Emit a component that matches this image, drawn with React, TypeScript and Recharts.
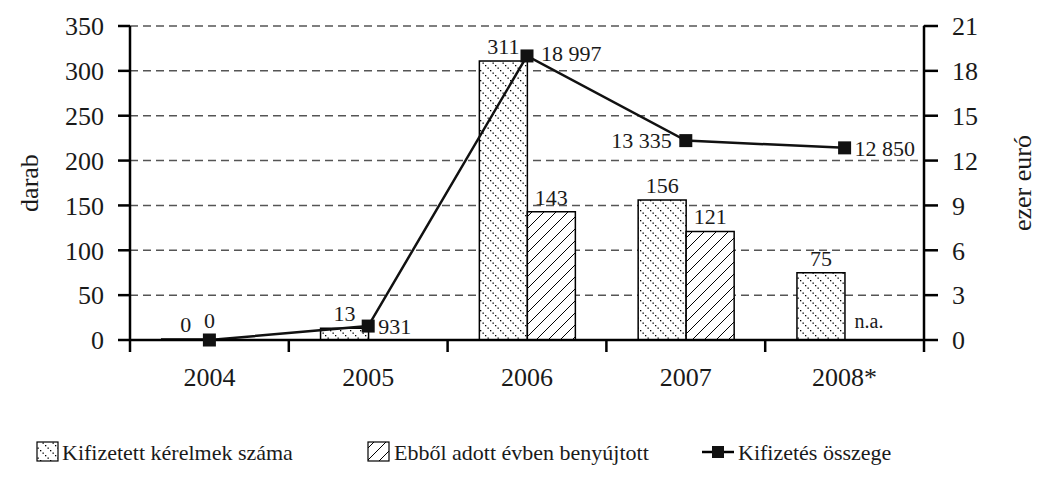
import React from 'react';
import {
  ComposedChart,
  Bar,
  Line,
  XAxis,
  YAxis,
  CartesianGrid,
  LabelList,
} from 'recharts';

// Adatok a diagramról leolvasva
const evek = ['2004', '2005', '2006', '2007', '2008*'];
const kifizetettKerelmek = [0, 13, 311, 156, 75];
const benyujtott: (number | null)[] = [null, null, 143, 121, null];
const nemElerheto = ['2008*'];
const kifizetesOsszege = [0, 931, 18997, 13335, 12850]; // euró
const balTickek = [0, 50, 100, 150, 200, 250, 300, 350];
const jobbTickek = [0, 3, 6, 9, 12, 15, 18, 21]; // ezer euró
const osszegCimkeHelye = ['top', 'right', 'right', 'left', 'right'];

const data = evek.map((ev, i) => ({
  ev,
  kerelmek: kifizetettKerelmek[i],
  benyujtott: benyujtott[i],
  osszeg: kifizetesOsszege[i],
}));

const FONT = '"Liberation Serif", "Times New Roman", serif';
const INK = '#1a1a1a';
const W = 1044;
const H = 478;
const M = { top: 26, right: 40, bottom: 88, left: 40 };
const LEFT_W = 90;
const RIGHT_W = 80;
const PLOT_BOTTOM = 340;
const BAND = (W - M.left - M.right - LEFT_W - RIGHT_W) / evek.length;

const formatSzam = (v: number) =>
  String(v).replace(/\B(?=(\d{3})+(?!\d))/g, ' ');

function Mintak({ prefix }: { prefix: string }) {
  return (
    <defs>
      <pattern id={prefix + 'pont'} patternUnits="userSpaceOnUse" width="10" height="10">
        <rect width="10" height="10" fill="#fff" />
        {[0, 2.5, 5, 7.5].map((d) => (
          <rect key={d} x={d} y={d} width="1.3" height="1.3" fill="#000" />
        ))}
      </pattern>
      <pattern id={prefix + 'vonal'} patternUnits="userSpaceOnUse" width="12" height="12">
        <rect width="12" height="12" fill="#fff" />
        <line x1="0" y1="12" x2="12" y2="0" stroke="#000" strokeWidth="1" />
        <line x1="-1" y1="1" x2="1" y2="-1" stroke="#000" strokeWidth="1" />
        <line x1="11" y1="13" x2="13" y2="11" stroke="#000" strokeWidth="1" />
      </pattern>
    </defs>
  );
}

function EvTick(props: any) {
  const { x, y, payload, index } = props;
  const bal = x - BAND / 2;
  return (
    <g>
      <line x1={bal} x2={bal} y1={y} y2={y + 12} stroke="#000" strokeWidth={2.5} />
      {index === evek.length - 1 && (
        <line x1={x + BAND / 2} x2={x + BAND / 2} y1={y} y2={y + 12} stroke="#000" strokeWidth={2.5} />
      )}
      <text x={x} y={y + 46} textAnchor="middle" fontSize={26} fill={INK} fontFamily={FONT}>
        {payload.value}
      </text>
    </g>
  );
}

function NegyzetPont(props: any) {
  const { cx, cy } = props;
  if (cx == null || cy == null) return null;
  return <rect x={cx - 6.5} y={cy - 6.5} width={13} height={13} fill="#111" />;
}

function OsszegCimke(props: any) {
  const { x, y, value, index } = props;
  const hely = osszegCimkeHelye[index];
  const szoveg = formatSzam(value);
  const kozos = { fontSize: 22, fill: INK, fontFamily: FONT };
  if (hely === 'top') {
    return (
      <text x={x} y={y - 12} textAnchor="middle" {...kozos}>
        {szoveg}
      </text>
    );
  }
  const dx = hely === 'right' ? (index === 2 ? 14 : 10) : -14;
  return (
    <text
      x={x + dx}
      y={y + (index === 2 ? -3 : 0)}
      dy="0.35em"
      textAnchor={hely === 'right' ? 'start' : 'end'}
      {...kozos}
    >
      {szoveg}
    </text>
  );
}

function BenyujtottCimke(props: any) {
  const { x, y, width, value } = props;
  if (value == null) return null;
  return (
    <text x={x + width / 2} y={y - 7} textAnchor="middle" fontSize={22} fill={INK} fontFamily={FONT}>
      {value}
    </text>
  );
}

// a "n.a." felirat a második oszlop (hiányzó) helyére kerül, közvetlenül az első mellé
function KerelemCimke(props: any) {
  const { x, y, width, height, value, index } = props;
  const hianyzik = benyujtott[index] == null && nemElerheto.includes(evek[index]);
  return (
    <g>
      <text
        x={x + width / 2}
        y={Math.min(y, y + height) - 7}
        textAnchor="middle"
        fontSize={22}
        fill={INK}
        fontFamily={FONT}
      >
        {value}
      </text>
      {hianyzik && (
        <text
          x={x + width * 1.5}
          y={PLOT_BOTTOM - 12}
          textAnchor="middle"
          fontSize={20}
          fill={INK}
          fontFamily={FONT}
        >
          n.a.
        </text>
      )}
    </g>
  );
}

function Jelmagyarazat() {
  const t = { fontSize: 22, fill: INK, fontFamily: FONT };
  return (
    <svg width={W} height={H} style={{ position: 'absolute', left: 0, top: 0, pointerEvents: 'none' }}>
      <Mintak prefix="lg-" />
      <rect x={37} y={442} width={21} height={19} fill="url(#lg-pont)" stroke="#000" strokeWidth={1.2} />
      <text x={62} y={460} {...t}>Kifizetett kérelmek száma</text>
      <rect x={368} y={442} width={21} height={19} fill="url(#lg-vonal)" stroke="#000" strokeWidth={1.2} />
      <text x={394} y={460} {...t}>Ebből adott évben benyújtott</text>
      <line x1={702} x2={734} y1={452} y2={452} stroke="#000" strokeWidth={2.5} />
      <rect x={712} y={446} width={12} height={12} fill="#111" />
      <text x={738} y={460} {...t}>Kifizetés összege</text>
    </svg>
  );
}

export default function App() {
  const tengely = { stroke: '#000', strokeWidth: 2.5 };
  const tickStilus = { fontSize: 26, fill: INK, fontFamily: FONT };
  return (
    <div style={{ position: 'absolute', left: 0, top: 0, width: W, height: H, background: '#fff', fontFamily: FONT }}>
      <ComposedChart
        width={W}
        height={H}
        data={data}
        margin={M}
        barCategoryGap="20%"
        barGap={0}
      >
        <Mintak prefix="ch-" />
        <CartesianGrid
          yAxisId="left"
          vertical={false}
          stroke="#555"
          strokeWidth={1.5}
          strokeDasharray="8 5"
        />
        <XAxis
          dataKey="ev"
          height={50}
          axisLine={tengely}
          tickLine={false}
          tickSize={0}
          tickMargin={0}
          tick={<EvTick />}
          interval={0}
        />
        <YAxis
          yAxisId="left"
          width={LEFT_W}
          domain={[0, 350]}
          ticks={balTickek}
          axisLine={tengely}
          tickLine={tengely}
          tickSize={12}
          tickMargin={14}
          tick={tickStilus}
          interval={0}
          label={{
            value: 'darab',
            content: () => (
              <text
                x={29}
                y={183}
                transform="rotate(-90 29 183)"
                textAnchor="middle"
                dominantBaseline="central"
                fontSize={26}
                fill={INK}
                fontFamily={FONT}
              >
                darab
              </text>
            ),
          }}
        />
        <YAxis
          yAxisId="right"
          orientation="right"
          width={RIGHT_W}
          domain={[0, 21000]}
          ticks={jobbTickek.map((t) => t * 1000)}
          tickFormatter={(v: number) => String(v / 1000)}
          axisLine={tengely}
          tickLine={tengely}
          tickSize={14}
          tickMargin={14}
          tick={tickStilus}
          interval={0}
          label={{
            value: 'ezer euró',
            content: () => (
              <text
                x={1022}
                y={183}
                transform="rotate(-90 1022 183)"
                textAnchor="middle"
                dominantBaseline="central"
                fontSize={26}
                fill={INK}
                fontFamily={FONT}
              >
                ezer euró
              </text>
            ),
          }}
        />
        <Bar
          yAxisId="left"
          dataKey="kerelmek"
          fill="url(#ch-pont)"
          stroke="#000"
          strokeWidth={1.5}
          minPointSize={1}
          isAnimationActive={false}
        >
          <LabelList dataKey="kerelmek" content={<KerelemCimke />} />
        </Bar>
        <Bar
          yAxisId="left"
          dataKey="benyujtott"
          fill="url(#ch-vonal)"
          stroke="#000"
          strokeWidth={1.5}
          isAnimationActive={false}
        >
          <LabelList dataKey="benyujtott" content={<BenyujtottCimke />} />
        </Bar>
        <Line
          yAxisId="right"
          dataKey="osszeg"
          stroke="#111"
          strokeWidth={2.5}
          dot={<NegyzetPont />}
          activeDot={false}
          isAnimationActive={false}
        >
          <LabelList dataKey="osszeg" content={<OsszegCimke />} />
        </Line>
      </ComposedChart>
      <Jelmagyarazat />
    </div>
  );
}
